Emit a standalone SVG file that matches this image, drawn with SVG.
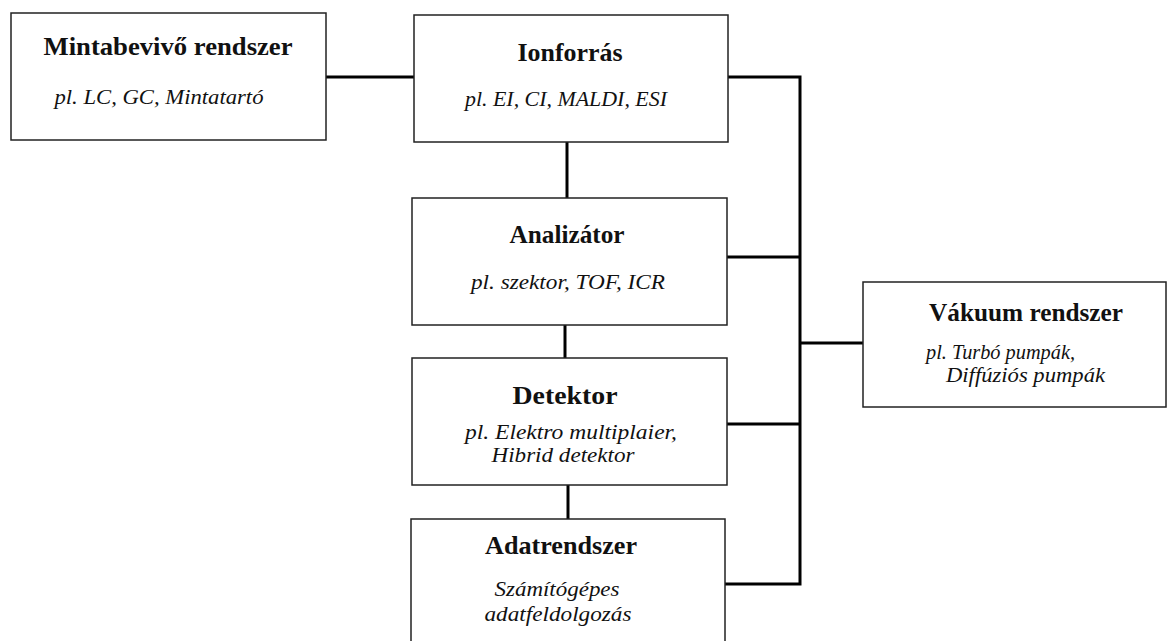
<svg xmlns="http://www.w3.org/2000/svg" width="1167" height="641" viewBox="0 0 1167 641">
<style>
.box{fill:#fff;stroke:#222;stroke-width:1.5}
.t{font-family:"Liberation Serif","Times New Roman",serif;font-weight:bold;font-size:26px;fill:#111;text-anchor:middle}
.s{font-family:"Liberation Serif","Times New Roman",serif;font-style:italic;font-size:22px;fill:#111;text-anchor:middle}
.c{stroke:#000;stroke-width:3;fill:none}
</style>
<rect width="1167" height="641" fill="#fff"/>
<g id="connectors">
<line class="c" x1="326" y1="77" x2="414" y2="77"/>
<polyline class="c" points="728,77 800,77 800,584 725,584"/>
<line class="c" x1="727" y1="257" x2="800" y2="257"/>
<line class="c" x1="727" y1="424" x2="800" y2="424"/>
<line class="c" x1="800" y1="343" x2="863" y2="343"/>
<line class="c" x1="567" y1="142" x2="567" y2="198"/>
<line class="c" x1="565" y1="325" x2="565" y2="358"/>
<line class="c" x1="568" y1="485" x2="568" y2="519"/>
</g>
<g id="mintabevivo">
<rect class="box" x="11" y="13" width="315" height="127"/>
<text class="t" x="168" y="55" textLength="249" lengthAdjust="spacingAndGlyphs">Mintabevivő rendszer</text>
<text class="s" x="159" y="104" textLength="209" lengthAdjust="spacingAndGlyphs">pl. LC, GC, Mintatartó</text>
</g>
<g id="ionforras">
<rect class="box" x="414" y="15" width="314" height="127"/>
<text class="t" x="570" y="61" textLength="105" lengthAdjust="spacingAndGlyphs">Ionforrás</text>
<text class="s" x="566" y="106" textLength="202" lengthAdjust="spacingAndGlyphs">pl. EI, CI, MALDI, ESI</text>
</g>
<g id="analizator">
<rect class="box" x="412" y="198" width="315" height="127"/>
<text class="t" x="567" y="243" textLength="115" lengthAdjust="spacingAndGlyphs">Analizátor</text>
<text class="s" x="568" y="289" textLength="194" lengthAdjust="spacingAndGlyphs">pl. szektor, TOF, ICR</text>
</g>
<g id="detektor">
<rect class="box" x="412" y="358" width="315" height="127"/>
<text class="t" x="565" y="404" textLength="105" lengthAdjust="spacingAndGlyphs">Detektor</text>
<text class="s" x="571" y="439" textLength="212" lengthAdjust="spacingAndGlyphs">pl. Elektro multiplaier,</text>
<text class="s" x="563" y="462" textLength="143" lengthAdjust="spacingAndGlyphs">Hibrid detektor</text>
</g>
<g id="adatrendszer">
<rect class="box" x="411" y="519" width="314" height="130"/>
<text class="t" x="561" y="554" textLength="152" lengthAdjust="spacingAndGlyphs">Adatrendszer</text>
<text class="s" x="557" y="596" textLength="125" lengthAdjust="spacingAndGlyphs">Számítógépes</text>
<text class="s" x="558" y="621" textLength="147" lengthAdjust="spacingAndGlyphs">adatfeldolgozás</text>
</g>
<g id="vakuum">
<rect class="box" x="863" y="282" width="303" height="125"/>
<text class="t" x="1026" y="321" textLength="194" lengthAdjust="spacingAndGlyphs">Vákuum rendszer</text>
<text class="s" x="926" y="359" style="text-anchor:start" textLength="149" lengthAdjust="spacingAndGlyphs">pl. Turbó pumpák,</text>
<text class="s" x="946" y="382" style="text-anchor:start" textLength="159" lengthAdjust="spacingAndGlyphs">Diffúziós pumpák</text>
</g>
</svg>
